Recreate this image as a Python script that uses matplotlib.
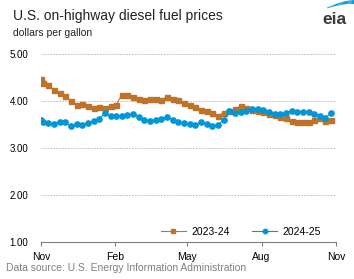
import matplotlib
matplotlib.use("Agg")
import matplotlib.pyplot as plt
from matplotlib.collections import LineCollection
import numpy as np

plt.rcParams['font.family'] = ['Liberation Sans', 'DejaVu Sans']

# days after Nov 1: a start-of-season point, then weekly prices
days = [0] + list(range(2, 365, 7))

diesel_2023_24 = [4.47, 4.38, 4.33, 4.23, 4.17, 4.11, 4.00, 3.92, 3.94, 3.89,
                  3.85, 3.87, 3.85, 3.89, 3.92, 4.13, 4.13, 4.09, 4.04, 4.02,
                  4.04, 4.04, 4.02, 4.09, 4.05, 4.02, 3.96, 3.92, 3.87, 3.81,
                  3.79, 3.75, 3.68, 3.75, 3.79, 3.83, 3.89, 3.86, 3.81, 3.79,
                  3.77, 3.72, 3.70, 3.67, 3.63, 3.57, 3.55, 3.55, 3.55, 3.59,
                  3.64, 3.57, 3.60]
diesel_2024_25 = [3.60, 3.56, 3.53, 3.51, 3.56, 3.55, 3.47, 3.51, 3.49, 3.53,
                  3.58, 3.62, 3.74, 3.68, 3.68, 3.69, 3.70, 3.73, 3.66, 3.60,
                  3.58, 3.60, 3.62, 3.66, 3.60, 3.55, 3.53, 3.51, 3.49, 3.55,
                  3.51, 3.47, 3.49, 3.60, 3.78, 3.75, 3.77, 3.79, 3.82, 3.83,
                  3.80, 3.77, 3.72, 3.72, 3.75, 3.79, 3.77, 3.77, 3.77, 3.72,
                  3.68, 3.64, 3.75]

month_days = [0, 92, 181, 273, 365]
month_labels = ['Nov', 'Feb', 'May', 'Aug', 'Nov']
y_ticks = [1, 2, 3, 4, 5]

orange = '#bd732a'
blue = '#0096d7'

fig = plt.figure(figsize=(3.54, 2.79), dpi=100)
ax = fig.add_axes([41 / 354, 37 / 279, 295 / 354, 188 / 279])

ax.plot(days, diesel_2023_24, color=orange, lw=0.8, marker='s', ms=3.6,
        mec=orange, mfc=orange, label='2023-24', zorder=3)
ax.plot(days, diesel_2024_25, color=blue, lw=0.8, marker='o', ms=3.8,
        mec=blue, mfc=blue, label='2024-25', zorder=4)

ax.set_xlim(0, 365)
ax.set_ylim(1, 5)
ax.set_xticks(month_days)
ax.set_xticklabels(month_labels)
ax.set_yticks(y_ticks)
ax.set_yticklabels(['%.2f' % v for v in y_ticks])
ax.tick_params(axis='x', length=3, width=0.8, color='#7f7f7f', pad=4,
               labelsize=7.5, labelcolor='#000000')
ax.tick_params(axis='y', length=0, pad=9, labelsize=7, labelcolor='#000000')

for v in y_ticks[1:]:
    ax.axhline(v, color='#c8c8c8', lw=0.7, ls=(0, (2, 1)), zorder=1)

for s in ['top', 'right', 'left']:
    ax.spines[s].set_visible(False)
ax.spines['bottom'].set_color('#7f7f7f')
ax.spines['bottom'].set_linewidth(0.8)

ax.legend(loc='center', bbox_to_anchor=(0.678, 0.055), ncol=2, frameon=False,
          fontsize=7.5, handlelength=2.4, handletextpad=0.5, columnspacing=2.2,
          borderpad=0, borderaxespad=0, markerscale=0.85)

fig.text(13 / 354, 1 - 16 / 279, 'U.S. on-highway diesel fuel prices',
         fontsize=10, color='#222222', va='center', ha='left')
fig.text(13 / 354, 1 - 33.5 / 279, 'dollars per gallon', fontsize=7.5,
         color='#222222', va='center', ha='left')
fig.text(6 / 354, 1 - 268 / 279,
         'Data source: U.S. Energy Information Administration',
         fontsize=7.5, color='#808080', va='center', ha='left')

# eia logo
fig.text(334 / 354, 1 - 23.5 / 279, 'eia', fontsize=12.5, fontweight='bold',
         color='#3a3a3a', ha='center', va='baseline')
t = np.linspace(0, 1, 25)
arc_x = (327 + 27 * t) / 354
arc_y = 1 - (8 - 6 * np.sin(t * np.pi / 2)) / 279
pts = np.column_stack([arc_x, arc_y]).reshape(-1, 1, 2)
segs = np.concatenate([pts[:-1], pts[1:]], axis=1)
fig.add_artist(LineCollection(segs, colors=blue,
                              linewidths=np.linspace(0.6, 2.8, len(segs)),
                              transform=fig.transFigure))

fig.savefig('out.png', dpi=100)
